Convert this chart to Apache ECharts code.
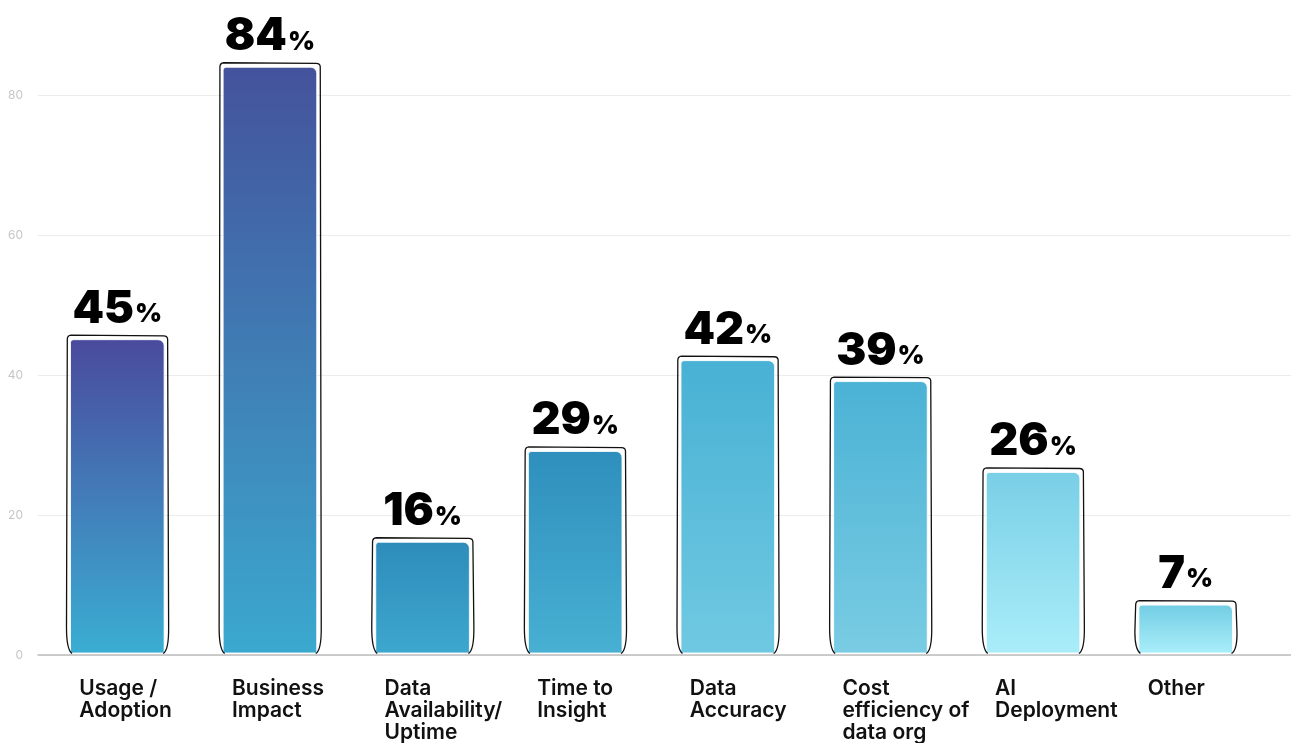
<!DOCTYPE html>
<html>
<head>
<meta charset="utf-8">
<style>
  html, body { margin: 0; padding: 0; background: #ffffff; overflow: hidden; }
  body { width: 1291px; height: 743px; position: relative; }
  /* canvas extends above the page so the 0–100 scale is cut just above the 80 line */
  #chart { position: absolute; left: 0; top: -45px; width: 1291px; height: 788px; }
</style>
<script src="https://cdn.jsdelivr.net/npm/echarts@6/dist/echarts.min.js"></script>
</head>
<body>
<div id="chart"></div>
<script>
// Survey results: how data teams measure their success (share of respondents, %)
const categories = [
  'Usage /\nAdoption',
  'Business\nImpact',
  'Data\nAvailability/\nUptime',
  'Time to\nInsight',
  'Data\nAccuracy',
  'Cost\nefficiency of\ndata org',
  'AI\nDeployment',
  'Other'
];
const shares = [45, 84, 16, 29, 42, 39, 26, 7];
const yTicks = [0, 20, 40, 60, 80];

// per-bar gradient palette (top colour, bottom colour)
const topColors = ['#4a4a9d', '#44529c', '#2e8cbb', '#2e8fbc', '#48b1d4', '#4bb2d5', '#79cfe6', '#72cde3'];
const bottomColors = ['#3aaed3', '#3ba9cf', '#3da7ce', '#48b0d3', '#70c9e2', '#79cce3', '#aaedf9', '#aaeefa'];

const FONT = 'Inter, "Noto Sans", Lato, sans-serif';

const chart = echarts.init(document.getElementById('chart'), null, { renderer: 'canvas' });

const barData = shares.map((v, i) => ({
  value: v,
  itemStyle: {
    color: new echarts.graphic.LinearGradient(0, 0, 0, 1, [
      { offset: 0, color: topColors[i] },
      { offset: 1, color: bottomColors[i] }
    ])
  }
}));

// hand-drawn style outline around each bar
function renderOutline(params, api) {
  const idx = api.value(0);
  const val = api.value(1);
  const topPt = api.coord([idx, val]);
  const basePt = api.coord([idx, 0]);
  const band = api.size([1, 0])[0];
  const bw = band * 0.62;
  const cx = topPt[0];
  const L = cx - bw / 2 - 3;
  const R = cx + bw / 2 + 3;
  const top = topPt[1] - 4;
  const base = basePt[1];
  const h = base - top;
  const c = Math.min(26, h * 0.4);
  const d = [
    'M', L + 5, base,
    'Q', L - 0.5, base - 4, L - 0.5, base - c,
    'L', L + 0.3, top + 4,
    'Q', L + 0.5, top + 0.3, L + 4, top,
    'L', R - 4, top + 0.6,
    'Q', R - 0.2, top + 0.6, R, top + 4,
    'L', R + 1, base - c,
    'Q', R + 1.2, base - 3, R - 4.5, base
  ].join(' ');
  return {
    type: 'path',
    shape: { pathData: d },
    style: { fill: 'none', stroke: '#111111', lineWidth: 1.3 },
    z2: 5
  };
}

const option = {
  animation: false,
  backgroundColor: '#ffffff',
  grid: [
    { left: 38, right: 0, top: 0, bottom: 88 },
    { left: 41, right: 29, top: 0, bottom: 88 }
  ],
  xAxis: [
    {
      type: 'category',
      gridIndex: 0,
      data: categories,
      axisLine: { show: true, lineStyle: { color: '#bdbdbd', width: 1.5 } },
      axisTick: { show: false },
      axisLabel: { show: false },
      splitLine: { show: false }
    },
    {
      type: 'category',
      gridIndex: 1,
      data: categories,
      axisLine: { show: false },
      axisTick: { show: false },
      axisLabel: {
        interval: 0,
        margin: 24,
        align: 'center',
        verticalAlign: 'top',
        width: 76,
        overflow: 'none',
        formatter: (v) => v.split('\n').map(s => '{a|' + s + '}').join('\n'),
        rich: {
          a: {
            align: 'left',
            fontFamily: FONT,
            fontSize: 21,
            fontWeight: 600,
            lineHeight: 22,
            color: '#111111'
          }
        }
      }
    }
  ],
  yAxis: [
    {
      type: 'value',
      gridIndex: 0,
      min: 0,
      max: 100,
      interval: 20,
      axisLine: { show: false },
      axisTick: { show: false },
      axisLabel: {
        margin: 15,
        color: '#c6c6c6',
        fontFamily: FONT,
        fontSize: 12,
        formatter: (v) => (yTicks.indexOf(v) >= 0 ? String(v) : '')
      },
      splitLine: { lineStyle: { color: '#ececec', width: 1 } }
    },
    {
      type: 'value',
      gridIndex: 1,
      min: 0,
      max: 100,
      interval: 20,
      show: false,
      splitLine: { show: false }
    }
  ],
  series: [
    {
      type: 'bar',
      xAxisIndex: 1,
      yAxisIndex: 1,
      data: barData,
      barWidth: '62%',
      itemStyle: {
        borderRadius: [3, 6, 0, 0],
        borderColor: 'rgba(255,255,255,0.85)',
        borderWidth: 1
      },
      label: {
        show: true,
        position: 'top',
        distance: 8,
        formatter: (p) => '{n|' + p.value + '}{p|%}',
        rich: {
          n: {
            fontFamily: FONT,
            fontSize: 45,
            fontWeight: 900,
            color: '#000000',
            lineHeight: 44
          },
          p: {
            fontFamily: FONT,
            fontSize: 26,
            fontWeight: 900,
            color: '#000000',
            lineHeight: 44,
            verticalAlign: 'bottom',
            padding: [0, 0, 4, 1]
          }
        }
      },
      z: 3
    },
    {
      type: 'custom',
      xAxisIndex: 1,
      yAxisIndex: 1,
      renderItem: renderOutline,
      data: shares.map((v, i) => [i, v]),
      encode: { x: 0, y: 1 },
      silent: true,
      z: 4
    }
  ]
};

chart.setOption(option);
</script>
</body>
</html>
